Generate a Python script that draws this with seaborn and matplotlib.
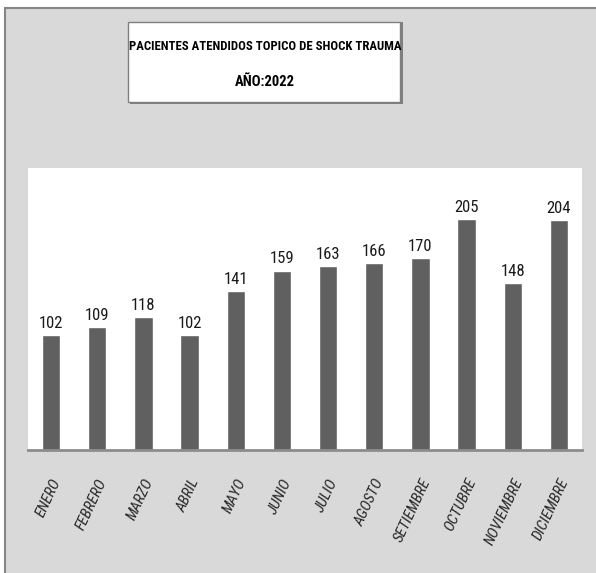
import matplotlib
matplotlib.use('Agg')
import matplotlib.pyplot as plt
from matplotlib.patches import Rectangle
from matplotlib import font_manager
import seaborn as sns
import pandas as pd

# Data
meses = ['ENERO', 'FEBRERO', 'MARZO', 'ABRIL', 'MAYO', 'JUNIO', 'JULIO',
         'AGOSTO', 'SETIEMBRE', 'OCTUBRE', 'NOVIEMBRE', 'DICIEMBRE']
pacientes = [102, 109, 118, 102, 141, 159, 163, 166, 170, 205, 148, 204]
titulo = 'PACIENTES ATENDIDOS TOPICO DE SHOCK TRAUMA'
subtitulo = 'AÑO:2022'

df = pd.DataFrame({'mes': meses, 'pacientes': pacientes})

sns.set_theme(style='white')
# pick a narrow family if one is installed
installed = {f.name for f in font_manager.fontManager.ttflist}
narrow = [f for f in ['Roboto Condensed', 'Open Sans Condensed', 'Liberation Sans Narrow',
                      'Liberation Sans'] if f in installed]
plt.rcParams['font.family'] = narrow[:1] + ['DejaVu Sans']

W, H = 596, 573
fig = plt.figure(figsize=(W / 100, H / 100), dpi=100, facecolor='white')

# gray chart area with border on top and left
fig.add_artist(Rectangle((5 / W, -0.01), 1.02, (H - 8) / H + 0.01, transform=fig.transFigure,
                         facecolor='#d9d9d9', edgecolor='#868686', linewidth=1.5, zorder=0))

ax = fig.add_axes([28 / W, (H - 450) / H, (582 - 28) / W, (450 - 168) / H])
ax.set_facecolor('white')

sns.barplot(data=df, x='mes', y='pacientes', color='#606060', width=0.4,
            saturation=1, ax=ax)
ax.set_ylim(0, 250)
ax.set_xlim(-0.5, 11.5)

ax.bar_label(ax.containers[0], fontsize=12, color='#1a1a1a', padding=3)

for s in ['top', 'right', 'left']:
    ax.spines[s].set_visible(False)
ax.spines['bottom'].set_color('#8c8c8c')
ax.spines['bottom'].set_linewidth(2)
ax.set_yticks([])
ax.set_xlabel('')
ax.set_ylabel('')
ax.tick_params(axis='x', length=0, pad=19)
for lbl in ax.get_xticklabels():
    lbl.set_rotation(65)
    lbl.set_ha('right')
    lbl.set_rotation_mode('anchor')
    lbl.set_fontstyle('italic')
    lbl.set_fontsize(11)
    lbl.set_color('#262626')

# title box
fig.add_artist(Rectangle((130 / W, (H - 104) / H), 273 / W, 82 / H, transform=fig.transFigure,
                         facecolor='#7f7f7f', edgecolor='none', zorder=2))
fig.add_artist(Rectangle((128 / W, (H - 102) / H), 272 / W, 80 / H, transform=fig.transFigure,
                         facecolor='white', edgecolor='#7f7f7f', linewidth=1, zorder=3))
fig.text(265 / W, (H - 47) / H, titulo, ha='center', va='center', fontsize=9.2,
         fontweight='bold', color='black', zorder=4)
fig.text(265 / W, (H - 82) / H, subtitulo, ha='center', va='center', fontsize=10.5,
         fontweight='bold', color='black', zorder=4)

fig.savefig('out.png', dpi=100, facecolor=fig.get_facecolor())
